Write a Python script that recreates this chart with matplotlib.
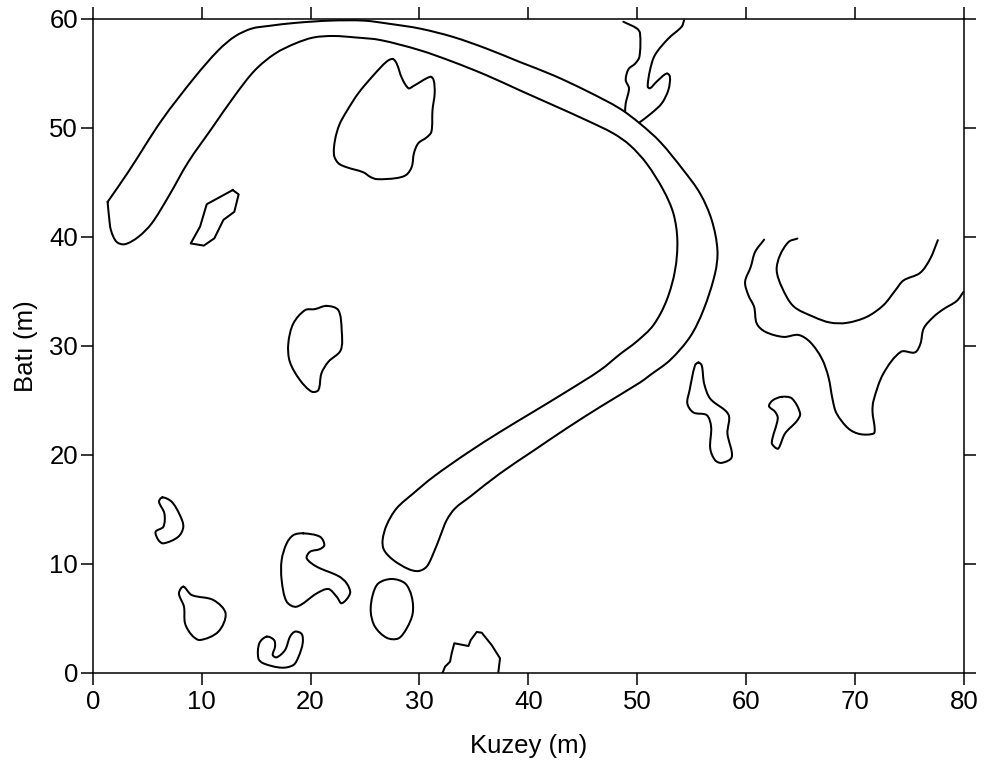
import matplotlib
matplotlib.use('Agg')
import matplotlib.pyplot as plt
import numpy as np
from matplotlib.path import Path
from matplotlib.patches import PathPatch

# contour lines, (Kuzey, Bati) in metres
band = [
    (1.37, 43.21), (3.27, 45.97), (6.33, 50.7), (9.39, 54.68), (11.54, 57.13), (13.07, 58.41),
    (14.6, 59.12), (16.13, 59.36), (18.57, 59.64), (21.8, 59.85), (24.9, 59.85), (27.3, 59.55),
    (30.05, 59.12), (33.1, 58.35), (36.17, 57.28), (39.2, 56.06), (42.3, 54.83), (45.35, 53.4),
    (48.4, 51.78), (50.25, 50.4), (52.1, 48.72), (54.24, 46.12), (55.77, 43.98), (56.84, 41.53),
    (57.36, 38.78), (57.14, 36.64), (56.07, 33.28), (54.85, 30.83), (53.01, 28.69), (51.17, 27.31),
    (50.26, 26.64), (46.6, 24.4), (43.5, 22.42), (40.46, 20.37), (37.4, 18.29), (34.64, 16.15),
    (33.27, 15.08), (32.5, 14.0), (31.89, 12.48), (31.28, 10.95), (30.66, 9.73), (29.9, 9.33),
    (28.98, 9.52), (27.6, 10.34), (26.75, 11.26), (26.62, 12.18), (26.99, 13.55), (27.9, 15.08),
    (29.44, 16.46), (31.28, 17.98), (34.34, 20.13), (37.4, 22.1), (40.46, 23.95), (43.5, 25.8),
    (46.6, 27.77), (48.42, 29.24), (49.95, 30.4), (51.48, 31.9), (52.7, 34.19), (53.47, 36.95),
    (53.68, 39.7), (53.32, 42.14), (52.4, 44.29), (50.86, 46.73), (49.33, 48.41), (47.8, 49.5),
    (45.35, 50.7), (42.3, 52.08), (39.2, 53.46), (36.17, 54.83), (33.1, 56.06), (30.05, 57.13),
    (26.4, 58.07), (24.2, 58.3), (22.1, 58.44), (20.26, 58.3), (18.57, 57.74), (16.74, 56.82),
    (14.9, 55.3), (13.07, 53.0), (10.92, 49.94), (8.78, 46.88), (6.94, 43.67), (5.41, 41.23),
    (4.19, 40.0), (2.96, 39.33), (2.2, 39.54), (1.68, 40.6), (1.5, 41.84), (1.37, 43.21),
]
blob_top = [
    (27.55, 56.33), (27.9, 55.93), (28.4, 54.55), (29.0, 53.64), (29.45, 53.85), (31.0, 54.7),
    (31.3, 54.4), (31.4, 53.2), (31.2, 51.65), (31.1, 49.66), (30.67, 49.14), (29.9, 48.6),
    (29.5, 47.7), (29.3, 46.45), (28.8, 45.7), (27.9, 45.4), (26.1, 45.3), (25.5, 45.5),
    (24.85, 45.93), (23.3, 46.4), (22.56, 46.76), (22.16, 47.5), (22.25, 48.9), (22.65, 50.3),
    (23.3, 51.5), (24.4, 53.2), (25.8, 54.86), (27.0, 56.1), (27.55, 56.33),
]
blob_small = [
    (12.86, 44.3), (13.4, 43.9), (13.0, 42.3), (12.0, 41.56), (11.17, 39.87), (10.2, 39.2),
    (9.0, 39.4), (9.86, 40.95), (10.47, 43.0), (12.86, 44.3),
]
wiggle_left = [
    (48.72, 59.75), (49.95, 59.14), (50.25, 58.7), (50.2, 56.55), (49.8, 55.9), (49.2, 55.4),
    (48.94, 54.4), (49.24, 53.64), (48.94, 52.26), (48.88, 51.5),
]
wiggle_right = [
    (54.3, 59.9), (54.08, 59.3), (52.85, 58.2), (51.63, 56.7), (51.17, 55.3), (50.96, 53.8),
    (51.17, 53.64), (51.78, 54.25), (52.7, 55.0), (53.0, 54.7), (52.86, 53.5), (52.25, 52.26),
    (51.3, 51.35), (50.2, 50.5),
]
curve_a = [
    (61.65, 39.75), (60.82, 38.62), (60.42, 37.25), (59.9, 35.87), (60.2, 34.65), (60.73, 33.57),
    (60.97, 32.05), (61.74, 31.3), (63.42, 30.82), (64.8, 31.0), (65.87, 30.35), (66.94, 28.84),
    (67.55, 27.15), (67.95, 25.0), (68.3, 23.8), (69.4, 22.4), (70.46, 21.9), (71.7, 21.95),
    (71.8, 22.4), (71.6, 23.95), (71.7, 25.0), (72.6, 27.46), (74.2, 29.45), (75.5, 29.4),
    (76.0, 30.2), (76.3, 31.6), (77.2, 32.66), (78.1, 33.36), (79.34, 34.13), (79.95, 34.95),
]
curve_b = [
    (64.7, 39.85), (63.9, 39.54), (63.1, 38.3), (62.8, 36.94), (63.27, 35.4), (64.34, 33.64),
    (66.2, 32.66), (67.7, 32.14), (69.24, 32.11), (71.07, 32.66), (72.6, 33.73), (73.7, 35.1),
    (74.44, 36.0), (75.97, 36.7), (76.9, 38.0), (77.6, 39.7),
]
blob_c = [
    (55.62, 28.47), (55.92, 28.2), (56.14, 26.55), (56.7, 25.15), (58.37, 23.7), (58.28, 21.95),
    (58.68, 19.8), (57.76, 19.26), (57.15, 19.5), (56.7, 20.58), (56.78, 22.57), (56.38, 23.64),
    (55.16, 23.88), (54.6, 24.7), (54.8, 25.9), (55.3, 28.2), (55.62, 28.47),
]
blob_d = [
    (63.27, 25.32), (64.2, 25.17), (64.95, 23.8), (64.65, 23.1), (63.57, 21.96), (62.96, 20.58),
    (62.66, 20.67), (62.35, 21.13), (62.9, 23.33), (62.66, 23.94), (62.1, 24.46), (62.44, 25.0),
    (63.27, 25.32),
]
blob_e = [
    (6.4, 16.09), (7.25, 15.69), (8.0, 14.47), (8.32, 13.4), (7.86, 12.48), (6.49, 11.87),
    (6.03, 12.18), (5.78, 12.94), (6.49, 13.4), (6.58, 14.62), (6.09, 15.69), (6.4, 16.09),
]
blob_f = [
    (8.32, 7.9), (9.09, 7.13), (11.08, 6.67), (12.2, 5.45), (11.54, 3.77), (9.85, 3.0),
    (9.09, 3.46), (8.48, 4.53), (8.38, 6.06), (7.92, 7.28), (8.32, 7.9),
]
blob_g = [
    (19.34, 12.79), (20.87, 12.48), (21.27, 11.72), (20.87, 11.35), (19.95, 11.1), (19.65, 10.5),
    (20.57, 9.73), (22.56, 8.87), (23.32, 8.2), (23.63, 7.28), (22.86, 6.37), (22.4, 6.98),
    (21.64, 7.68), (20.57, 7.28), (18.73, 6.06), (17.81, 6.52), (17.35, 8.5), (17.35, 10.34),
    (17.81, 11.87), (18.43, 12.63), (19.34, 12.79),
]
blob_h = [
    (27.45, 8.6), (28.68, 8.2), (29.29, 6.98), (29.38, 5.45), (28.83, 4.07), (28.07, 3.15),
    (27.0, 3.2), (25.92, 4.22), (25.53, 5.6), (25.71, 7.13), (26.23, 8.2), (27.45, 8.6),
]
blob_i = [
    (15.97, 3.31), (16.65, 3.0), (16.74, 2.39), (16.53, 1.63), (16.89, 1.41), (17.66, 2.08),
    (18.12, 3.31), (18.58, 3.77), (19.19, 3.55), (19.28, 2.7), (18.9, 1.47), (18.43, 0.71),
    (17.35, 0.46), (15.67, 0.86), (15.21, 1.32), (15.3, 2.7), (15.97, 3.31),
]
blob_j = [
    (32.14, 0.03), (32.35, 0.55), (32.81, 1.01), (32.96, 1.78), (33.2, 2.7), (34.5, 2.45),
    (34.71, 3.0), (35.26, 3.74), (35.72, 3.67), (36.63, 2.54), (37.4, 1.32), (37.25, 0.1),
]
blob_k = [
    (21.48, 33.67), (22.55, 33.28), (22.86, 31.44), (22.77, 29.6), (21.64, 28.54), (21.0, 27.47),
    (20.72, 25.94), (20.1, 25.8), (19.03, 26.86), (18.1, 28.54), (17.96, 30.2), (18.42, 32.05),
    (19.5, 33.28), (20.4, 33.37), (21.48, 33.67),
]

# band starts and ends on its sharp tip, the others are round all the way
open_lines = [band, wiggle_left, wiggle_right, curve_a, curve_b]
closed_lines = [blob_top, blob_c, blob_d, blob_e, blob_f, blob_g, blob_h, blob_i, blob_k]
sharp_lines = [blob_small, blob_j]

x_ticks = [0, 10, 20, 30, 40, 50, 60, 70, 80]
y_ticks = [0, 10, 20, 30, 40, 50, 60]


def curve_path(points, closed):
    # bezier through the read points, handles scaled by the gap to each neighbour
    pts = np.array(points)
    n = len(pts)
    tangents = []
    for i in range(n):
        if closed:
            prev_pt = pts[(i - 1) % (n - 1)]
            next_pt = pts[(i + 1) % (n - 1)]
        else:
            prev_pt = pts[max(i - 1, 0)]
            next_pt = pts[min(i + 1, n - 1)]
        d1 = np.linalg.norm(pts[i] - prev_pt)
        d2 = np.linalg.norm(next_pt - pts[i])
        tangents.append((next_pt - prev_pt) / (d1 + d2))
    verts = [pts[0]]
    codes = [Path.MOVETO]
    for i in range(n - 1):
        gap = np.linalg.norm(pts[i + 1] - pts[i])
        verts += [pts[i] + tangents[i] * gap / 3, pts[i + 1] - tangents[i + 1] * gap / 3, pts[i + 1]]
        codes += [Path.CURVE4, Path.CURVE4, Path.CURVE4]
    return Path(verts, codes)


plt.rcParams['font.family'] = ['Liberation Sans', 'DejaVu Sans']

fig = plt.figure(figsize=(9.86, 7.65), dpi=100)
ax = fig.add_axes([92.7 / 986, 92.3 / 765, 871.3 / 986, 653.7 / 765])

for line in open_lines:
    ax.add_patch(PathPatch(curve_path(line, False), fill=False, edgecolor='black', linewidth=1.45,
                           capstyle='round', joinstyle='round', clip_on=False))
for line in closed_lines:
    ax.add_patch(PathPatch(curve_path(line, True), fill=False, edgecolor='black', linewidth=1.45,
                           capstyle='round', joinstyle='round', clip_on=False))
for line in sharp_lines:
    xs, ys = zip(*line)
    ax.plot(xs, ys, color='black', linewidth=1.45, solid_joinstyle='round')

ax.set_xlim(0, 80)
ax.set_ylim(0, 60)
ax.set_xticks(x_ticks)
ax.set_yticks(y_ticks)
ax.tick_params(axis='both', which='major', direction='out', length=8.5, width=1.1,
               labelsize=18.5, top=True, right=True)
ax.tick_params(axis='x', pad=4)
ax.tick_params(axis='y', pad=2)
for spine in ax.spines.values():
    spine.set_linewidth(1.1)

ax.set_xlabel('Kuzey (m)', fontsize=18.5, labelpad=14)
ax.set_ylabel('Batı (m)', fontsize=18.5, labelpad=8)

fig.savefig('out.png', dpi=100, facecolor='white')
